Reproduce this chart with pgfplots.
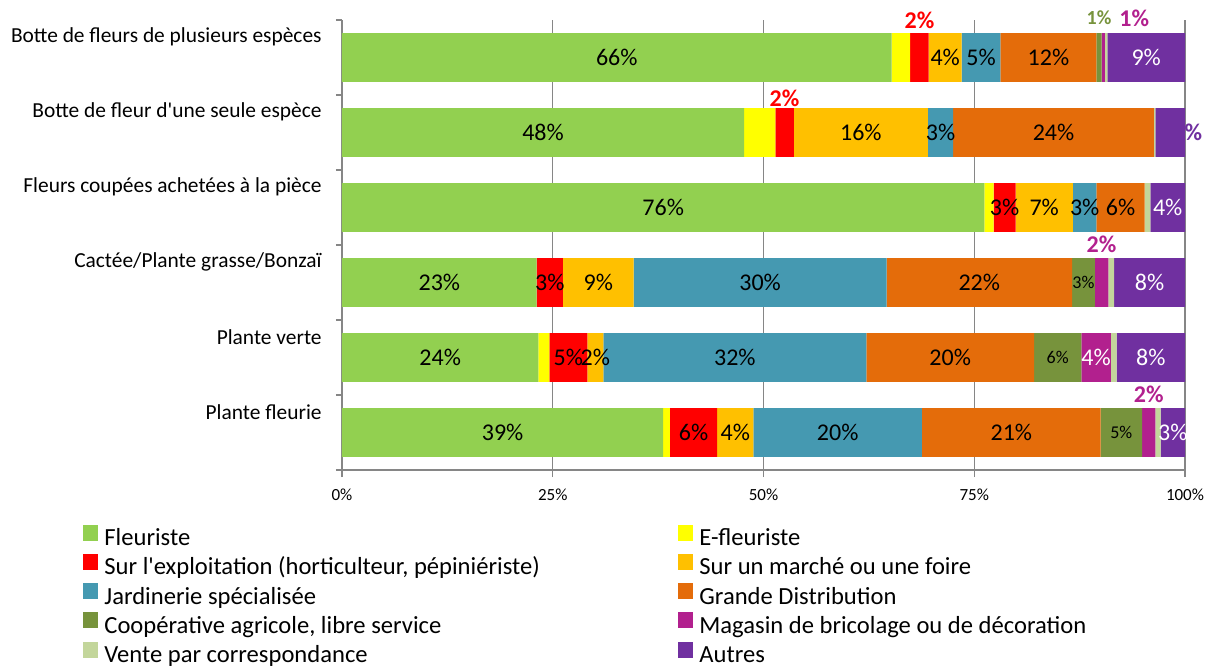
\documentclass[border=0pt]{standalone}
\usepackage{pgfplots}
\pgfplotsset{compat=1.18}
\usepackage{fontspec}
\setmainfont{Carlito}
\definecolor{c1}{HTML}{92D050}
\definecolor{c2}{HTML}{FFFF00}
\definecolor{c3}{HTML}{FF0000}
\definecolor{c4}{HTML}{FFC000}
\definecolor{c5}{HTML}{4599B1}
\definecolor{c6}{HTML}{E46C0A}
\definecolor{c7}{HTML}{77933C}
\definecolor{c8}{HTML}{B2208E}
\definecolor{c9}{HTML}{C3D69B}
\definecolor{c10}{HTML}{7030A0}
\definecolor{axisgray}{HTML}{868686}
\NewDocumentCommand{\W}{m}{\textcolor{white}{#1}}
\NewDocumentCommand{\Sm}{m}{{\fontsize{9}{10}\selectfont #1}}
\NewDocumentCommand{\Bc}{mm}{\textcolor{#1}{\bfseries #2}}
\NewDocumentCommand{\Bs}{mm}{\textcolor{#1}{\fontsize{10}{12}\selectfont\bfseries #2}}
\NewDocumentCommand{\LE}{m}{\makebox[284pt][l]{#1}}
\begin{document}
\begin{tikzpicture}
\begin{axis}[
  name=ax,
  scale only axis, width=421.5pt, height=225pt,
  xbar stacked, bar width=0.65,
  xmin=0, xmax=100, ymin=-0.5, ymax=5.5, y dir=reverse,
  axis x line*=bottom, axis y line*=left,
  axis line style={draw=axisgray, line width=0.6pt},
  xtick={0,25,50,75,100}, xticklabels={0\%,25\%,50\%,75\%,100\%},
  xticklabel style={font=\fontsize{8.5}{10}\selectfont, yshift=-2.5pt},
  xmajorgrids, grid style={draw=axisgray, line width=0.6pt},
  ytick={0,1,2,3,4,5},
  yticklabels={Botte de fleurs de plusieurs espèces, Botte de fleur d\textquotesingle une seule espèce, Fleurs coupées achetées à la pièce, Cactée/Plante grasse/Bonzaï, Plante verte, Plante fleurie},
  yticklabel style={font=\fontsize{10.7}{12}\selectfont, anchor=east, inner sep=0pt, xshift=-6.5pt, yshift=10.25pt},
  minor ytick={-0.5,0.5,1.5,2.5,3.5,4.5,5.5},
  major y tick style={draw=none},
  minor y tick style={draw=axisgray, line width=0.6pt},
  x tick style={draw=axisgray, line width=0.6pt},
  tick align=outside, major tick length=3.5pt, minor tick length=3pt,
  point meta=explicit symbolic,
  nodes near coords={\pgfplotspointmeta},
  visualization depends on={value \thisrow{dx} \as \ddx},
  visualization depends on={value \thisrow{dy} \as \ddy},
  nodes near coords style={anchor=center, inner sep=0pt, text=black,
     font=\fontsize{12}{14}\selectfont,
     xshift={\ddx*1pt}, yshift={\ddy*1pt}},
  legend columns=2,
  legend style={at={(axis description cs:-0.3072,-0.121)}, anchor=north west,
     draw=none, fill=none, inner sep=0pt, column sep=0pt, row sep=0pt,
     font=\fontsize{12.3}{14}\selectfont,
     nodes={inner xsep=3pt, inner ysep=1.55pt, text height=8.5pt, text depth=2.6pt}},
  legend cell align=left,
  legend image code/.code={\fill[#1] (0pt,-0.5pt) rectangle (7.5pt,7.5pt);},
]
\addplot[fill=c1, draw=none] table[x=v, y=c, meta=l] {
c v l dx dy
0 65.2 66\% 0 0
1 47.7 48\% 0 0
2 76.2 76\% 0 0
3 23.1 23\% 0 0
4 23.3 24\% 0 0
5 38.1 39\% 0 0
};
\addlegendentry{\LE{Fleuriste}}
\addplot[fill=c2, draw=none] table[x=v, y=c, meta=l] {
c v l dx dy
0 2.2 {} 0 0
1 3.7 {} 0 0
2 1.1 {} 0 0
3 0 {} 0 0
4 1.3 {} 0 0
5 0.8 {} 0 0
};
\addlegendentry{\LE{E-fleuriste}}
\addplot[fill=c3, draw=none] table[x=v, y=c, meta=l] {
c v l dx dy
0 2.2 \Bc{c3}{2\%} 0 18.75
1 2.2 \Bc{c3}{2\%} 0 17
2 2.6 3\% 0 0
3 3.1 3\% 0 0
4 4.5 5\% 0 0
5 5.6 6\% 0 0
};
\addlegendentry{\LE{Sur l\textquotesingle exploitation (horticulteur, pépiniériste)}}
\addplot[fill=c4, draw=none] table[x=v, y=c, meta=l] {
c v l dx dy
0 3.9 4\% 0 0
1 15.9 16\% 0 0
2 6.8 7\% 0 0
3 8.4 9\% 0 0
4 1.9 2\% 0 0
5 4.3 4\% 0 0
};
\addlegendentry{\LE{Sur un marché ou une foire}}
\addplot[fill=c5, draw=none] table[x=v, y=c, meta=l] {
c v l dx dy
0 4.6 5\% 0 0
1 3.0 3\% 0 0
2 2.8 3\% 0 0
3 30.0 30\% 0 0
4 31.2 32\% 0 0
5 20.0 20\% 0 0
};
\addlegendentry{\LE{Jardinerie spécialisée}}
\addplot[fill=c6, draw=none] table[x=v, y=c, meta=l] {
c v l dx dy
0 11.4 12\% 0 0
1 23.8 24\% 0 0
2 5.7 6\% 0 0
3 22.0 22\% 0 0
4 19.9 20\% 0 0
5 21.2 21\% 0 0
};
\addlegendentry{\LE{Grande Distribution}}
\addplot[fill=c7, draw=none] table[x=v, y=c, meta=l] {
c v l dx dy
0 0.6 \Bs{c7}{1\%} 0 19.7
1 0 {} 0 0
2 0 {} 0 0
3 2.7 \Sm{3\%} 0 0
4 5.6 \Sm{6\%} 0 0
5 4.9 \Sm{5\%} 0 0
};
\addlegendentry{\LE{Coopérative agricole, libre service}}
\addplot[fill=c8, draw=none] table[x=v, y=c, meta=l] {
c v l dx dy
0 0.4 \Bc{c8}{1\%} 15.5 19.7
1 0 {} 0 0
2 0 {} 0 0
3 1.6 \Bc{c8}{2\%} 0 19
4 3.5 \W{4\%} 0 0
5 1.6 \Bc{c8}{2\%} 0 19
};
\addlegendentry{\LE{Magasin de bricolage ou de décoration}}
\addplot[fill=c9, draw=none] table[x=v, y=c, meta=l] {
c v l dx dy
0 0.3 {} 0 0
1 0.2 {} 0 0
2 0.7 {} 0 0
3 0.7 {} 0 0
4 0.7 {} 0 0
5 0.6 {} 0 0
};
\addlegendentry{\LE{Vente par correspondance}}
\addplot[fill=c10, draw=none] table[x=v, y=c, meta=l] {
c v l dx dy
0 9.2 \W{9\%} 0 0
1 3.5 \Bc{c10}{\%} 11.5 0
2 4.1 \W{4\%} 0 0
3 8.4 \W{8\%} 0 0
4 8.1 \W{8\%} 0 0
5 2.9 \W{3\%} 0 0
};
\addlegendentry{\LE{Autres}}
\end{axis}
\pgfresetboundingbox
\path[use as bounding box] ([xshift=-171pt, yshift=-98pt]ax.south west) rectangle ([xshift=10pt, yshift=10pt]ax.north east);
\end{tikzpicture}
\end{document}
